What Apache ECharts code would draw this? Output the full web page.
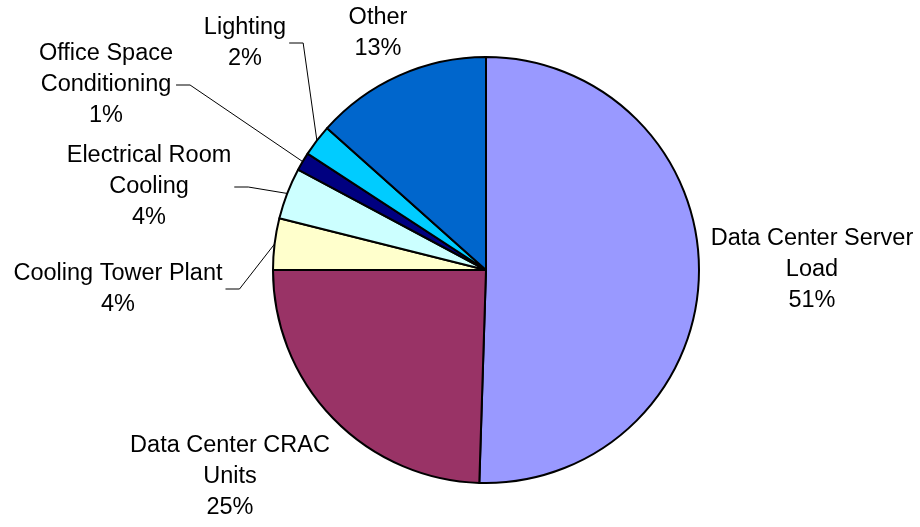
<!DOCTYPE html>
<html>
<head>
<meta charset="utf-8">
<title>Energy use breakdown</title>
<script src="https://cdn.jsdelivr.net/npm/echarts@6/dist/echarts.min.js"></script>
<style>
  html, body { margin: 0; padding: 0; background: #fff; }
  #main { width: 920px; height: 527px; }
</style>
</head>
<body>
<div id="main"></div>
<script>
// slices, clockwise from 12 o'clock
var categories = [
  'Data Center Server\nLoad',
  'Data Center CRAC\nUnits',
  'Cooling Tower Plant',
  'Electrical Room\nCooling',
  'Office Space\nConditioning',
  'Lighting',
  'Other'
];
var values = [50.5, 24.5, 3.9, 3.9, 1.4, 2.4, 13.4];
var colors = ['#9999FF', '#993366', '#FFFFCC', '#CCFFFF', '#000080', '#00CCFF', '#0066CC'];
var hasLeader = [false, false, true, true, true, true, false];

// label centres (px), as Excel placed them
var labelPos = [
  [812, 270],
  [230, 477],
  [118, 289],
  [149, 187],
  [106, 85],
  [245, 43],
  [378, 33]
];

var chart = echarts.init(document.getElementById('main'));

var option = {
  backgroundColor: '#ffffff',
  animation: false,
  series: [{
    type: 'pie',
    center: [486, 270],
    radius: 213,
    startAngle: 90,
    clockwise: true,
    avoidLabelOverlap: false,
    emphasis: { disabled: true },
    itemStyle: { borderColor: '#000', borderWidth: 2 },
    label: {
      show: true,
      position: 'outside',
      color: '#000',
      fontFamily: 'Liberation Sans, Arial, sans-serif',
      fontSize: 23.5,
      lineHeight: 31,
      formatter: function (p) {
        return p.name + '\n' + Math.round(p.percent) + '%';
      }
    },
    labelLine: {
      show: true,
      length: 10,
      length2: 10,
      smooth: false,
      lineStyle: { color: '#000', width: 1 }
    },
    labelLayout: function (params) {
      var p = labelPos[params.dataIndex];
      var w = params.labelRect.width;
      var res = { x: p[0], y: p[1], align: 'center', verticalAlign: 'middle' };
      if (params.labelLinePoints) {
        var ex = p[0] + w / 2 + 3;
        res.labelLinePoints = [params.labelLinePoints[0], [ex + 14, p[1]], [ex, p[1]]];
      }
      return res;
    },
    data: categories.map(function (c, i) {
      return {
        name: c,
        value: values[i],
        itemStyle: { color: colors[i] },
        labelLine: { show: hasLeader[i] }
      };
    })
  }]
};

chart.setOption(option);
</script>
</body>
</html>
